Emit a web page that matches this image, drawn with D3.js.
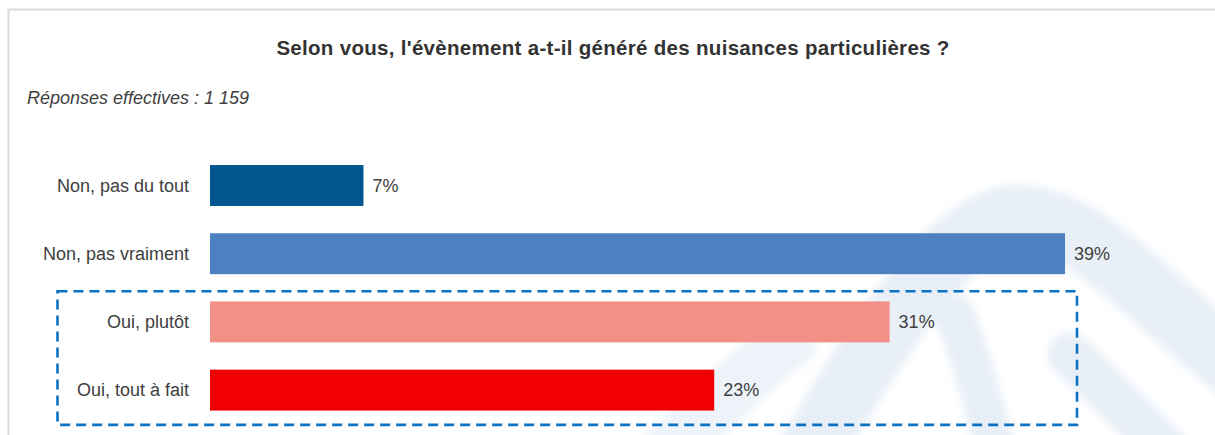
<!DOCTYPE html>
<html lang="fr">
<head>
<meta charset="utf-8">
<script src="https://cdn.jsdelivr.net/npm/d3@7"></script>
<style>
  html, body { margin: 0; padding: 0; background: #fff; }
  svg { display: block; font-family: "Liberation Sans", Arial, sans-serif; }
</style>
</head>
<body>
<svg id="chart" width="1215" height="435"></svg>
<script>
// Survey answers and their shares (%)
const categories = ["Non, pas du tout", "Non, pas vraiment", "Oui, plutôt", "Oui, tout à fait"];
const values = [7, 39, 31, 23];
const valueLabels = ["7%", "39%", "31%", "23%"];
const barColors = ["#02558F", "#4C80C1", "#F39086", "#F00000"];
// Answers grouped inside the dashed frame
const highlighted = ["Oui, plutôt", "Oui, tout à fait"];

const title = "Selon vous, l'évènement a-t-il généré des nuisances particulières ?";
const subtitle = "Réponses effectives : 1 159";

const W = 1215, H = 435;
const svg = d3.select("#chart");

// Soft edge for the background emblem
svg.append("defs").append("filter")
  .attr("id", "soft")
  .attr("x", "-20%").attr("y", "-20%").attr("width", "140%").attr("height", "140%")
  .append("feGaussianBlur").attr("stdDeviation", 4);

// Panel frame
svg.append("rect")
  .attr("x", 8.5).attr("y", 9.5)
  .attr("width", W + 20).attr("height", H + 20)
  .attr("fill", "#fff")
  .attr("stroke", "#dcdcdc").attr("stroke-width", 2);

// Faint mountain emblem in the background
const wm = svg.append("g")
  .attr("fill", "none")
  .attr("stroke", "#e8eff7")
  .attr("stroke-linecap", "round")
  .attr("filter", "url(#soft)");
wm.append("path")
  .attr("stroke-width", 65)
  .attr("d", "M800,470 C870,350 945,228 1010,218 C1080,210 1150,300 1240,370");
wm.append("path")
  .attr("stroke-width", 40)
  .attr("d", "M1000,470 C985,405 968,350 955,315");
wm.append("path")
  .attr("stroke-width", 45)
  .attr("d", "M1185,470 C1145,425 1105,390 1070,355");
wm.append("path")
  .attr("stroke-width", 55)
  .attr("stroke", "#eef3f9")
  .attr("d", "M650,470 C700,420 745,375 790,340");

// Title and subtitle
svg.append("text")
  .attr("x", 613).attr("y", 55)
  .attr("text-anchor", "middle")
  .attr("font-size", 20.5).attr("font-weight", "bold")
  .attr("letter-spacing", 0.3)
  .attr("fill", "#333")
  .text(title);

svg.append("text")
  .attr("x", 27).attr("y", 104)
  .attr("font-size", 18).attr("font-style", "italic")
  .attr("fill", "#404040")
  .text(subtitle);

// Scales
const x = d3.scaleLinear()
  .domain([0, d3.max(values)])
  .range([210, 1065]);

const y = d3.scaleBand()
  .domain(categories)
  .range([151.4, 424.2])
  .paddingInner(0.4)
  .paddingOuter(0.2);

const data = categories.map((c, i) => ({ cat: c, v: values[i], label: valueLabels[i], color: barColors[i] }));

// Dashed frame around the "Oui" answers
const step = y.step();
const fTop = y(highlighted[0]) - step * 0.15;
const fBot = y(highlighted[highlighted.length - 1]) + y.bandwidth() + step * 0.21;
svg.append("rect")
  .attr("x", 57.5).attr("y", fTop)
  .attr("width", x.range()[1] + 12 - 57.5)
  .attr("height", fBot - fTop)
  .attr("fill", "none")
  .attr("stroke", "#0B72C4")
  .attr("stroke-width", 2.6)
  .attr("stroke-dasharray", "10,6");

// Bars
svg.append("g").selectAll("rect")
  .data(data)
  .join("rect")
  .attr("x", x(0))
  .attr("y", d => y(d.cat))
  .attr("width", d => x(d.v) - x(0))
  .attr("height", y.bandwidth())
  .attr("fill", d => d.color);

// Category labels
svg.append("g").selectAll("text")
  .data(data)
  .join("text")
  .attr("x", 189)
  .attr("y", d => y(d.cat) + y.bandwidth() / 2)
  .attr("dy", "0.35em")
  .attr("text-anchor", "end")
  .attr("font-size", 18)
  .attr("fill", "#404040")
  .text(d => d.cat);

// Value labels
svg.append("g").selectAll("text")
  .data(data)
  .join("text")
  .attr("x", d => x(d.v) + 9)
  .attr("y", d => y(d.cat) + y.bandwidth() / 2)
  .attr("dy", "0.35em")
  .attr("font-size", 18)
  .attr("fill", "#404040")
  .text(d => d.label);
</script>
</body>
</html>
